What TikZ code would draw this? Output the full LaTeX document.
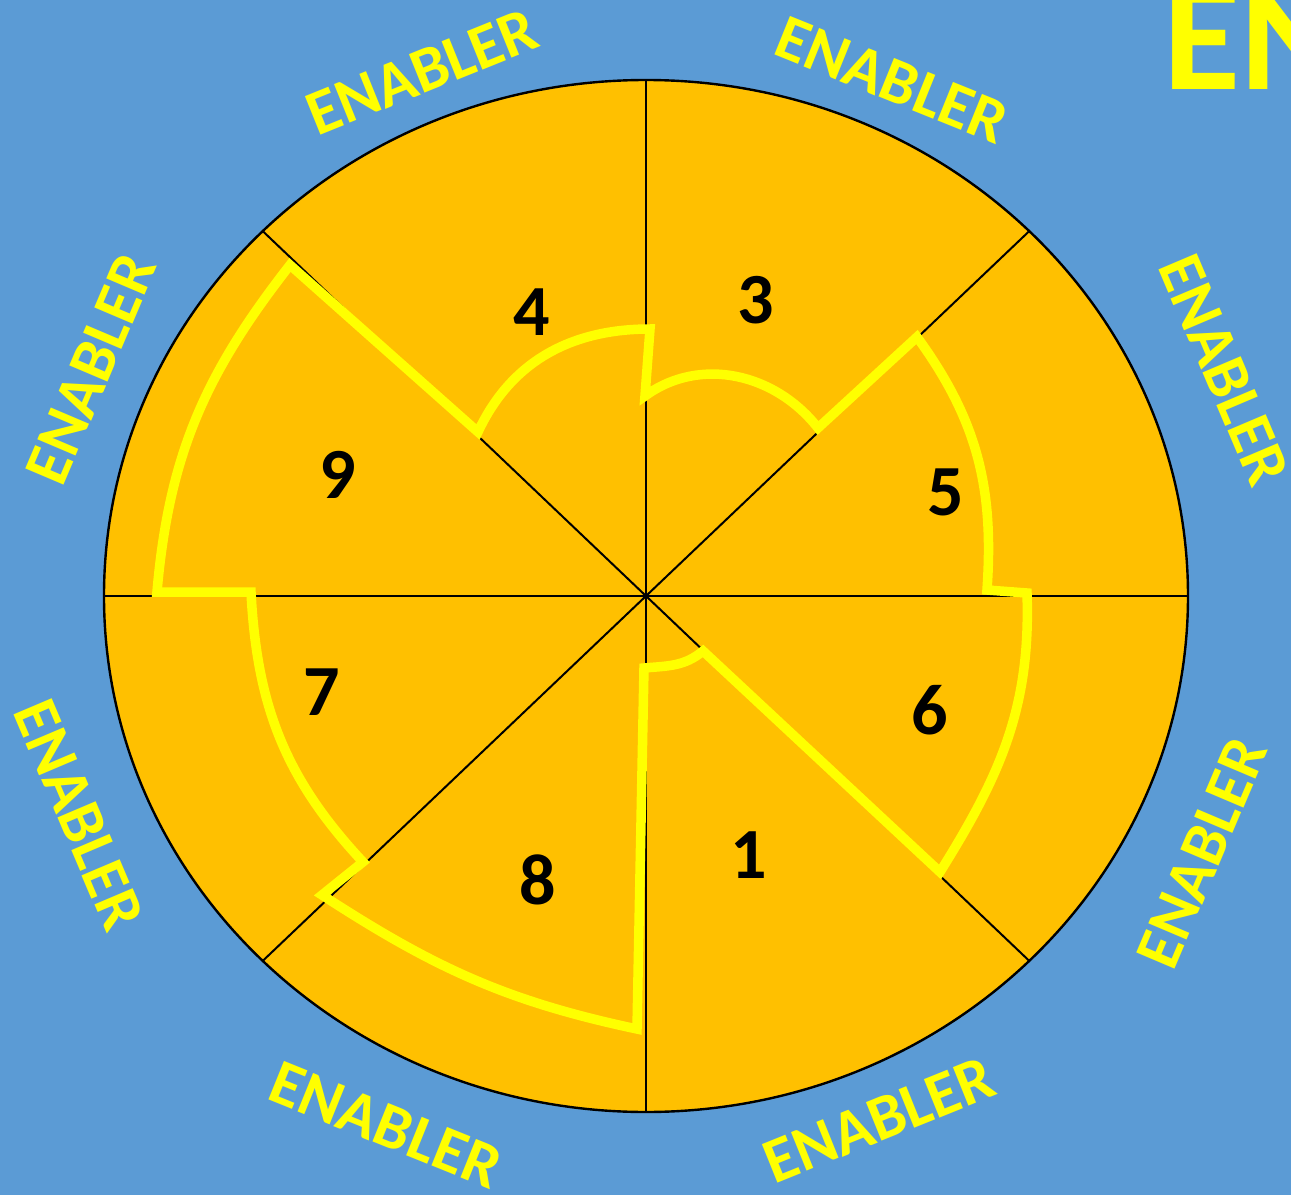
\documentclass[tikz,border=0pt]{standalone}
\usepackage{fontspec}
\setmainfont{Carlito}
\usepackage{tikz}
\usetikzlibrary{positioning}
\definecolor{slideblue}{HTML}{5B9BD5}
\definecolor{wheelgold}{HTML}{FFC000}
\definecolor{markyellow}{HTML}{FFFF00}

\begin{document}
\begin{tikzpicture}[x=1pt, y=1pt,
  rim/.style={draw=black, line width=2.4pt, fill=wheelgold},
  spoke/.style={draw=black, line width=2pt},
  score/.style={font=\fontsize{72}{72}\selectfont\bfseries, text=black, inner sep=0pt},
  enabler/.style={font=\fontsize{64}{64}\selectfont\bfseries, text=markyellow, inner sep=0pt},
  outline/.style={draw=markyellow, line width=9.5pt, line join=miter}
]
\useasboundingbox (-646,-599) rectangle (645,596);
\fill[slideblue] (-646,-599) rectangle (645,596);

\draw[rim] (0,0) ellipse [x radius=542, y radius=516];
\foreach \a in {0,45,...,315}
  \draw[spoke] (0,0) -- (\a:542 and 516);

\draw[outline] (-2,-72)
  to[out=5, in=220] (57,-55)
  -- (294,-276)
  to[out=58, in=-88] (381,3)
  -- (341,6)
  to[out=86, in=-54] (271,259)
  -- (172,168)
  to[out=128, in=36] (-1,200)
  -- (4,267)
  to[out=180, in=65] (-168,164)
  -- (-356,331)
  to[out=232, in=85] (-489,4)
  -- (-395,4)
  to[out=-87, in=133] (-283,-266)
  -- (-324,-299)
  to[out=-33, in=168] (-9,-433)
  -- cycle;

\node[score] (s4) at (-114,284) {4};
\node[score] (s3) at (110,296) {3};
\node[score] (s9) at (-308,121) {9};
\node[score] (s5) at (300,104) {5};
\node[score] (s7) at (-324,-96) {7};
\node[score] (s6) at (284,-114) {6};
\node[score] (s8) at (-108,-284) {8};
\node[score] (s1) at (103,-259) {1};

\node[enabler, rotate=22]  (en1) at (-224,524) {ENABLER};
\node[enabler, rotate=-22] (en2) at (246,516) {ENABLER};
\node[enabler, rotate=-67] (en3) at (578,226) {ENABLER};
\node[enabler, rotate=67]  (en4) at (556,-257) {ENABLER};
\node[enabler, rotate=22]  (en5) at (233,-524) {ENABLER};
\node[enabler, rotate=-22] (en6) at (-260,-529) {ENABLER};
\node[enabler, rotate=-67] (en7) at (-567,-219) {ENABLER};
\node[enabler, rotate=67]  (en8) at (-555,227) {ENABLER};

\node[font=\fontsize{158}{158}\selectfont\bfseries, text=markyellow,
      anchor=base west, inner sep=0pt] (head) at (517,506) {EN};
\end{tikzpicture}
\end{document}
